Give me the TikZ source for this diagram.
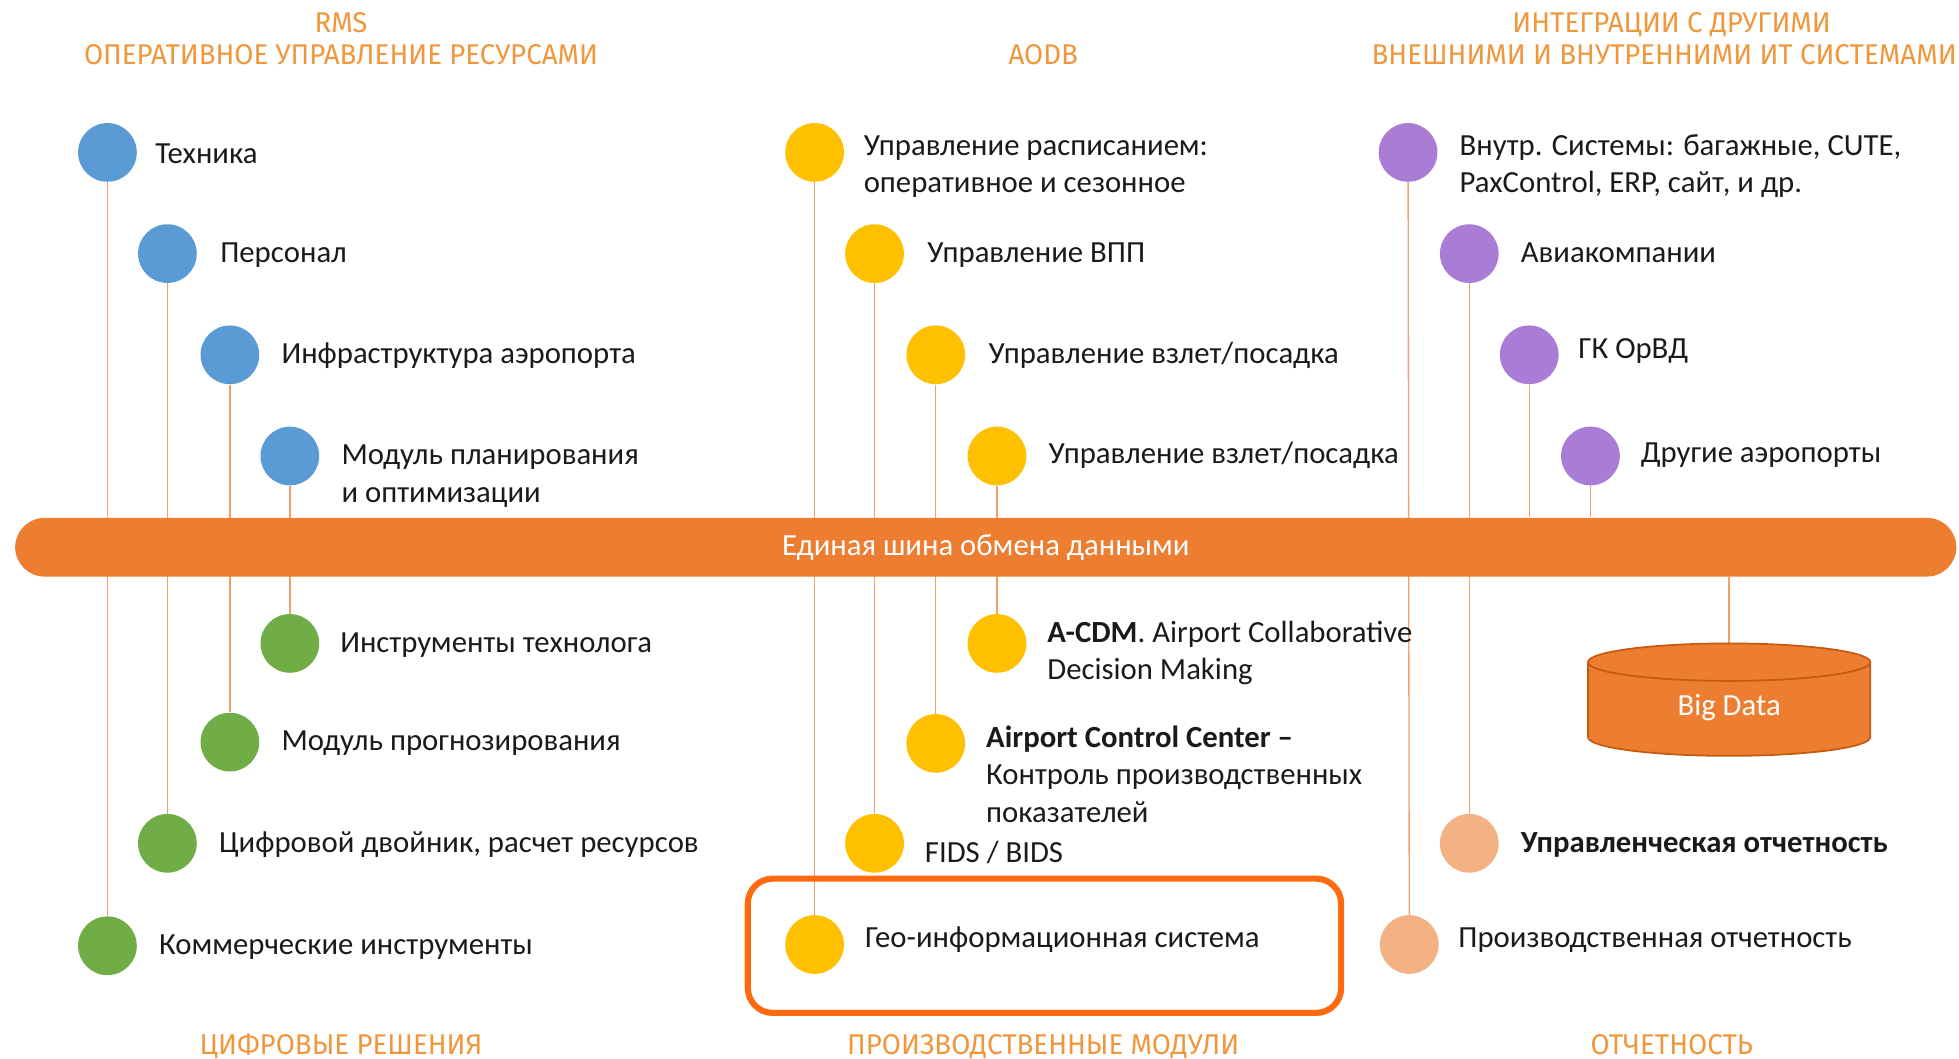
\documentclass[tikz,border=0pt]{standalone}
\usepackage{fontspec}
\setmainfont{Carlito}
\newfontfamily\titlefont[FakeStretch=0.97]{Fira Sans}
\usetikzlibrary{positioning}
\usetikzlibrary{backgrounds}
\definecolor{BusOrange}{HTML}{ED7D31}
\definecolor{LineOrange}{HTML}{F0A06A}
\definecolor{TitleOrange}{HTML}{F0963C}
\definecolor{FrameOrange}{HTML}{FF6A10}
\definecolor{CylEdge}{HTML}{C55A11}
\definecolor{DotBlue}{HTML}{5B9BD5}
\definecolor{DotGreen}{HTML}{70AD47}
\definecolor{DotYellow}{HTML}{FFC000}
\definecolor{DotPurple}{HTML}{A97CD6}
\definecolor{DotSalmon}{HTML}{F4B183}
\definecolor{TextDark}{HTML}{1A1A1A}
\tikzset{
  dot/.style={circle, minimum size=0.94cm, inner sep=0pt},
  lbl/.style={anchor=base west, inner sep=0pt, align=left, text=TextDark,
    font=\fontsize{14}{17}\selectfont},
  ttl/.style={anchor=base, inner sep=0pt, text=TitleOrange,
    font=\titlefont\fontsize{13}{15}\selectfont},
  link/.style={draw=LineOrange, line width=0.6pt},
}

\begin{document}
\begin{tikzpicture}[x=0.02cm, y=-0.02cm]
  \useasboundingbox (0,0) rectangle (1568,847);

  % titles
  \node[ttl] (rms1) at (273,26) {RMS};
  \node[ttl] (rms2) at (273,52) {ОПЕРАТИВНОЕ УПРАВЛЕНИЕ РЕСУРСАМИ};
  \node[ttl] (aodb) at (835,52) {AODB};
  \node[ttl] (int1) at (1338,26) {ИНТЕГРАЦИИ С ДРУГИМИ};
  \node[ttl] (int2) at (1332,52) {ВНЕШНИМИ И ВНУТРЕННИМИ ИТ СИСТЕМАМИ};
  \node[ttl] (digi) at (273,844) {ЦИФРОВЫЕ РЕШЕНИЯ};
  \node[ttl] (prodm) at (835,844) {ПРОИЗВОДСТВЕННЫЕ МОДУЛИ};
  \node[ttl] (rep) at (1338,844) {ОТЧЕТНОСТЬ};

  % data bus
  \node[fill=BusOrange, text=white, rounded corners=0.47cm, minimum width=31.08cm,
    minimum height=0.94cm, font=\fontsize{14}{17}\selectfont] (bus) at (789,438)
    {Единая шина обмена данными};

  % highlight frame
  \node[draw=FrameOrange, line width=2.8pt, rounded corners=0.4cm,
    minimum width=9.5cm, minimum height=2.15cm] (gisframe) at (836,757) {};

  % RMS
  \node[dot, fill=DotBlue] (tech) at (86,122) {};
  \node[dot, fill=DotBlue] (staff) at (134,203) {};
  \node[dot, fill=DotBlue] (infra) at (184,284) {};
  \node[dot, fill=DotBlue] (plan) at (232,365) {};
  \node[dot, fill=DotGreen] (tool) at (232,515) {};
  \node[dot, fill=DotGreen] (fcst) at (184,594) {};
  \node[dot, fill=DotGreen] (twin) at (134,675) {};
  \node[dot, fill=DotGreen] (comm) at (86,757) {};

  \node[lbl] (techL) at (124,131) {Техника};
  \node[lbl] (staffL) at (176,210) {Персонал};
  \node[lbl] (infraL) at (225,291) {Инфраструктура аэропорта};
  \node[lbl] (planL) at (273,402) {Модуль планирования\\и оптимизации};
  \node[lbl] (toolL) at (272,522) {Инструменты технолога};
  \node[lbl] (fcstL) at (225,601) {Модуль прогнозирования};
  \node[lbl] (twinL) at (175,682) {Цифровой двойник, расчет ресурсов};
  \node[lbl] (commL) at (127,764) {Коммерческие инструменты};

  % AODB
  \node[dot, fill=DotYellow] (sched) at (652,122) {};
  \node[dot, fill=DotYellow] (rwy) at (700,203) {};
  \node[dot, fill=DotYellow] (tkoff) at (749,284) {};
  \node[dot, fill=DotYellow] (land) at (798,365) {};
  \node[dot, fill=DotYellow] (acdm) at (798,515) {};
  \node[dot, fill=DotYellow] (acc) at (749,595) {};
  \node[dot, fill=DotYellow] (fids) at (700,675) {};
  \node[dot, fill=DotYellow] (gis) at (652,756) {};

  \node[lbl] (schedL) at (691,154) {Управление расписанием:\\оперативное и сезонное};
  \node[lbl] (rwyL) at (742,210) {Управление ВПП};
  \node[lbl] (tkoffL) at (791,291) {Управление взлет/посадка};
  \node[lbl] (landL) at (839,371) {Управление взлет/посадка};
  \node[lbl] (acdmL) at (838,544) {\textbf{A-CDM}. Airport Collaborative\\Decision Making};
  \node[lbl] (accL) at (789,658) {\textbf{Airport Control Center –}\\Контроль производственных\\показателей};
  \node[lbl] (fidsL) at (740,690) {FIDS / BIDS};
  \node[lbl] (gisL) at (692,758) {Гео-информационная система};

  % integrations and reports
  \node[dot, fill=DotPurple] (intsys) at (1127,122) {};
  \node[dot, fill=DotPurple] (airl) at (1176,203) {};
  \node[dot, fill=DotPurple] (atm) at (1224,284) {};
  \node[dot, fill=DotPurple] (apts) at (1273,365) {};
  \node[dot, fill=DotSalmon] (mgmt) at (1176,675) {};
  \node[dot, fill=DotSalmon] (prod) at (1128,756) {};

  \node[lbl] (intsysL) at (1168,154) {Внутр. Системы: багажные, CUTE,\\PaxControl, ERP, сайт, и др.};
  \node[lbl] (airlL) at (1217,210) {Авиакомпании};
  \node[lbl] (atmL) at (1263,287) {ГК ОрВД};
  \node[lbl] (aptsL) at (1313,370) {Другие аэропорты};
  \node[lbl] (mgmtL) at (1217,682) {\textbf{Управленческая отчетность}};
  \node[lbl] (prodL) at (1167,758) {Производственная отчетность};

  % big data store
  \coordinate (bdtop) at (1384,515);
  \draw[CylEdge, fill=BusOrange, line width=0.8pt] (1271,530) -- (1271,590)
    arc[start angle=180, end angle=360, x radius=2.26cm, y radius=0.3cm] -- (1497,530);
  \draw[CylEdge, fill=BusOrange, line width=0.8pt] (1384,530)
    ellipse[x radius=2.26cm, y radius=0.3cm];
  \node[text=white, font=\fontsize{14}{17}\selectfont] (bigdata) at (1384,566) {Big Data};

  % connectors
  \begin{scope}[on background layer]
    \draw[link] (tech) -- (comm);
    \draw[link] (staff) -- (twin);
    \draw[link] (infra) -- (fcst);
    \draw[link] (plan) -- (tool);
    \draw[link] (sched) -- (gis);
    \draw[link] (rwy) -- (fids);
    \draw[link] (tkoff) -- (acc);
    \draw[link] (land) -- (acdm);
    \draw[link] (intsys) -- (prod);
    \draw[link] (airl) -- (mgmt);
    \draw[link] (atm) -- (atm |- bus.north);
    \draw[link] (apts) -- (apts |- bus.north);
    \draw[link] (bus.south -| bdtop) -- (bdtop);
  \end{scope}
\end{tikzpicture}
\end{document}
